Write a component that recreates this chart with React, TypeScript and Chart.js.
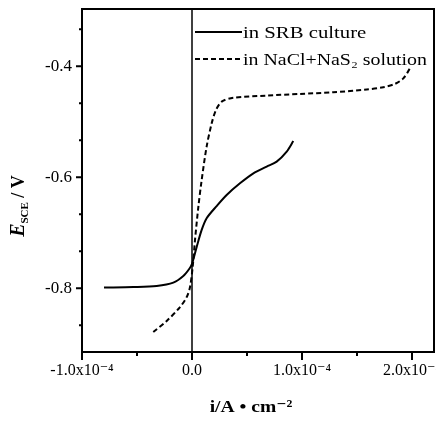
import React, { useEffect, useRef } from "react";
import { Chart, registerables } from "chart.js";
Chart.register(...registerables);

// Current density in units of 1e-4 A/cm2, potential in V
const srbX = [-0.8, -0.533, -0.321, -0.17, -0.079, -0.024, 0, 0.042, 0.088, 0.133, 0.224, 0.315, 0.436, 0.558, 0.679, 0.77, 0.861, 0.921];
const srbY = [-0.799, -0.798, -0.796, -0.79, -0.778, -0.765, -0.756, -0.726, -0.695, -0.674, -0.652, -0.632, -0.611, -0.593, -0.581, -0.572, -0.554, -0.535];
const naclX = [-0.352, -0.23, -0.109, -0.048, -0.018, 0.006, 0.027, 0.058, 0.088, 0.133, 0.179, 0.218, 0.27, 0.376, 0.679, 0.982, 1.285, 1.588, 1.739, 1.845, 1.921, 1.982];
const naclY = [-0.879, -0.859, -0.834, -0.816, -0.798, -0.762, -0.714, -0.653, -0.605, -0.545, -0.503, -0.479, -0.464, -0.457, -0.453, -0.45, -0.447, -0.442, -0.438, -0.432, -0.422, -0.404];

const seriesNames = ["in SRB culture", "in NaCl+NaS\u2082 solution"];
const xMajorTicks = [-1, 0, 1, 2];
const xMajorLabels = ["-1.0x10\u207B\u2074", "0.0", "1.0x10\u207B\u2074", "2.0x10\u207B\u2074"];
const xMinorTicks = [-0.5, 0.5, 1.5];
const yMajorTicks = [-0.8, -0.6, -0.4];
const yMajorLabels = ["-0.8", "-0.6", "-0.4"];
const yMinorTicks = [-0.8667, -0.7333, -0.6667, -0.5333, -0.4667, -0.3333];
const xTitle = "i/A \u2022 cm\u207B\u00B2";

const SERIF = "'Liberation Serif', 'DejaVu Serif', serif";

function stretchText(ctx: CanvasRenderingContext2D, text: string, x: number, y: number, sx: number) {
  ctx.save();
  ctx.translate(x, y);
  ctx.scale(sx, 1);
  ctx.fillText(text, 0, 0);
  ctx.restore();
}

const decorPlugin = {
  id: "decor",
  beforeDatasetsDraw(chart: any) {
    const { ctx, chartArea } = chart;
    const xs = chart.scales.x;
    const x0 = xs.getPixelForValue(0);
    ctx.save();
    ctx.strokeStyle = "#000";
    ctx.lineWidth = 1.5;
    ctx.beginPath();
    ctx.moveTo(x0, chartArea.top);
    ctx.lineTo(x0, chartArea.bottom);
    ctx.stroke();
    ctx.restore();
  },
  afterDraw(chart: any) {
    const { ctx, chartArea } = chart;
    const xs = chart.scales.x;
    const ys = chart.scales.y;
    const { left, right, top, bottom } = chartArea;
    ctx.save();
    ctx.strokeStyle = "#000";
    ctx.fillStyle = "#000";
    ctx.lineWidth = 2;
    ctx.strokeRect(left, top, right - left, bottom - top);

    // ticks
    ctx.lineWidth = 2;
    ctx.beginPath();
    yMajorTicks.forEach((v) => {
      const p = ys.getPixelForValue(v);
      ctx.moveTo(left - 6, p);
      ctx.lineTo(left, p);
    });
    yMinorTicks.forEach((v) => {
      const p = ys.getPixelForValue(v);
      ctx.moveTo(left - 3, p);
      ctx.lineTo(left, p);
    });
    xMajorTicks.forEach((v) => {
      const p = xs.getPixelForValue(v);
      ctx.moveTo(p, bottom);
      ctx.lineTo(p, bottom + 8);
    });
    xMinorTicks.forEach((v) => {
      const p = xs.getPixelForValue(v);
      ctx.moveTo(p, bottom);
      ctx.lineTo(p, bottom + 4);
    });
    ctx.stroke();

    // legend
    ctx.lineWidth = 2;
    ctx.beginPath();
    ctx.moveTo(195, 32);
    ctx.lineTo(242, 32);
    ctx.stroke();
    ctx.setLineDash([5, 3]);
    ctx.beginPath();
    ctx.moveTo(195, 59);
    ctx.lineTo(242, 59);
    ctx.stroke();
    ctx.setLineDash([]);
    ctx.font = `17px ${SERIF}`;
    ctx.textBaseline = "alphabetic";
    ctx.textAlign = "left";
    stretchText(ctx, seriesNames[0], 243, 38, 1.22);
    stretchText(ctx, seriesNames[1], 243, 65, 1.17);

    // x title
    ctx.font = `bold 17px ${SERIF}`;
    ctx.textAlign = "center";
    stretchText(ctx, xTitle, 251, 412, 1.15);

    // y title: E_SCE / V rotated
    ctx.save();
    ctx.translate(24, 206);
    ctx.rotate(-Math.PI / 2);
    ctx.textAlign = "left";
    ctx.font = `italic bold 20px ${SERIF}`;
    const wE = ctx.measureText("E").width;
    ctx.font = `bold 11px ${SERIF}`;
    const wS = ctx.measureText("SCE").width;
    ctx.font = `bold 18px ${SERIF}`;
    const wV = ctx.measureText(" / V").width;
    let x = -(wE + wS + wV) / 2;
    ctx.font = `italic bold 20px ${SERIF}`;
    ctx.fillText("E", x, 0);
    x += wE;
    ctx.font = `bold 11px ${SERIF}`;
    ctx.fillText("SCE", x, 4);
    x += wS;
    ctx.font = `bold 18px ${SERIF}`;
    ctx.fillText(" / V", x, 0);
    ctx.restore();

    ctx.restore();
  },
};

function zeroPadding(s: any) {
  s.paddingLeft = 0;
  s.paddingRight = 0;
  s.paddingTop = 0;
  s.paddingBottom = 0;
}

export default function App() {
  const ref = useRef<HTMLCanvasElement | null>(null);
  useEffect(() => {
    document.body.style.margin = "0";
    const canvas = ref.current!;
    const chart = new Chart(canvas, {
      type: "scatter",
      data: {
        datasets: [
          {
            label: seriesNames[0],
            data: srbX.map((x, i) => ({ x, y: srbY[i] })),
            showLine: true,
            borderColor: "#000",
            borderWidth: 2,
            pointRadius: 0,
            tension: 0.3,
          },
          {
            label: seriesNames[1],
            data: naclX.map((x, i) => ({ x, y: naclY[i] })),
            showLine: true,
            borderColor: "#000",
            borderWidth: 2,
            borderDash: [5, 3],
            pointRadius: 0,
            tension: 0.3,
          },
        ],
      },
      options: {
        animation: false,
        responsive: false,
        layout: { padding: { left: 0, right: 2, top: 9, bottom: 0 } },
        plugins: { legend: { display: false }, tooltip: { enabled: false } },
        scales: {
          x: {
            type: "linear",
            min: -1,
            max: 2.2,
            grid: { display: false, drawTicks: false },
            border: { display: false },
            afterBuildTicks: (s: any) => {
              s.ticks = xMajorTicks.map((v) => ({ value: v }));
            },
            afterFit: (s: any) => {
              s.height = 76;
              zeroPadding(s);
            },
            ticks: {
              color: "#000",
              padding: 9,
              maxRotation: 0,
              autoSkip: false,
              font: { family: SERIF, size: 16 },
              callback: (v: any) => {
                const i = xMajorTicks.indexOf(Number(v));
                return i >= 0 ? xMajorLabels[i] : "";
              },
            },
          },
          y: {
            type: "linear",
            min: -0.915,
            max: -0.297,
            grid: { display: false, drawTicks: false },
            border: { display: false },
            afterBuildTicks: (s: any) => {
              s.ticks = yMajorTicks.map((v) => ({ value: v }));
            },
            afterFit: (s: any) => {
              s.width = 82;
              zeroPadding(s);
            },
            ticks: {
              color: "#000",
              padding: 10,
              autoSkip: false,
              font: { family: SERIF, size: 17 },
              callback: (v: any) => {
                const i = yMajorTicks.findIndex((t) => Math.abs(t - Number(v)) < 1e-6);
                return i >= 0 ? yMajorLabels[i] : "";
              },
            },
          },
        },
      },
      plugins: [decorPlugin],
    } as any);
    return () => chart.destroy();
  }, []);
  return <canvas ref={ref} width={436} height={428} style={{ display: "block" }} />;
}
